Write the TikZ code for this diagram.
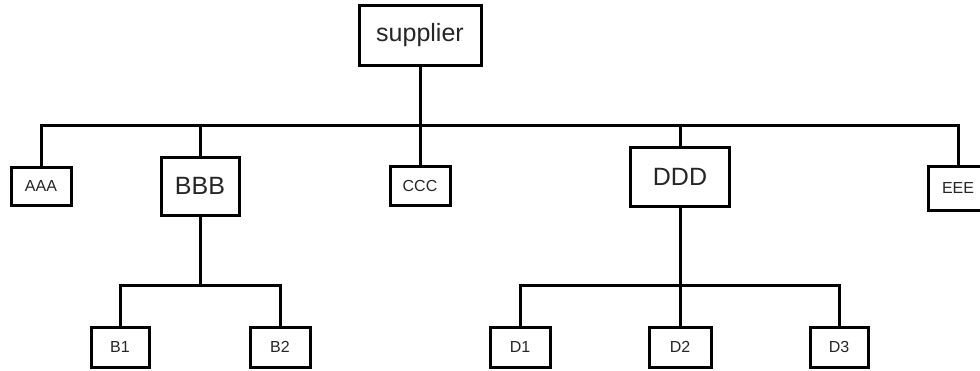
\documentclass[tikz,border=0pt]{standalone}
\usepackage{fontspec}
\setmainfont{Liberation Sans}
\begin{document}
\begin{tikzpicture}[x=1pt,y=-1pt,
  box/.style={draw=black,line width=3pt,fill=white,rectangle,inner sep=0pt,text=black!85,font=\fontsize{16}{16}\selectfont},
  bigbox/.style={box,font=\fontsize{25}{25}\selectfont},
  wire/.style={draw=black,line width=3pt,line join=miter}]
\useasboundingbox (0,0) rectangle (980,370);
% top level
\node[bigbox,minimum width=122pt,minimum height=60pt] (sup) at (420,35) {supplier};
% second level
\node[box,minimum width=60pt,minimum height=38pt] (aaa) at (41,186) {AAA};
\node[bigbox,minimum width=78pt,minimum height=58pt] (bbb) at (200,186) {BBB};
\node[box,minimum width=60pt,minimum height=39pt] (ccc) at (420,186) {CCC};
\node[bigbox,minimum width=99pt,minimum height=59pt] (ddd) at (680,176.5) {DDD};
\node[box,minimum width=60pt,minimum height=44pt] (eee) at (958,188) {EEE};
% third level
\node[box,minimum width=58pt,minimum height=40pt] (b1) at (120,347) {B1};
\node[box,minimum width=60pt,minimum height=40pt] (b2) at (280,347) {B2};
\node[box,minimum width=60pt,minimum height=40pt] (d1) at (520,347) {D1};
\node[box,minimum width=62pt,minimum height=40pt] (d2) at (680,347) {D2};
\node[box,minimum width=58pt,minimum height=40pt] (d3) at (839,347) {D3};
% bus levels
\coordinate (topbus) at (0,125);
\coordinate (lowbus) at (0,285);
% connectors
\draw[wire] (aaa.north) |- (eee.north |- topbus) -- (eee.north);
\draw[wire] (sup.south) -- (sup.south |- topbus);
\draw[wire] (bbb.north) -- (bbb.north |- topbus);
\draw[wire] (ccc.north) -- (ccc.north |- topbus);
\draw[wire] (ddd.north) -- (ddd.north |- topbus);
\draw[wire] (b1.north) |- (b2.north |- lowbus) -- (b2.north);
\draw[wire] (bbb.south) -- (bbb.south |- lowbus);
\draw[wire] (d1.north) |- (d3.north |- lowbus) -- (d3.north);
\draw[wire] (ddd.south) -- (ddd.south |- lowbus);
\draw[wire] (d2.north) -- (d2.north |- lowbus);
\end{tikzpicture}
\end{document}
